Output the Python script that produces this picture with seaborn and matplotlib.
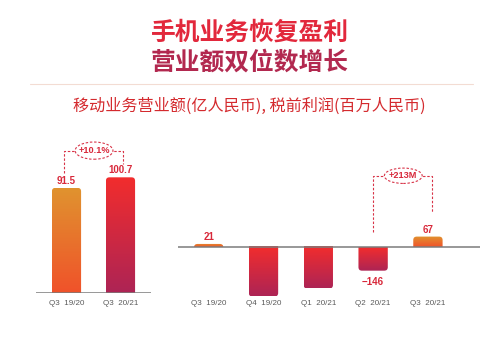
import numpy as np
import pandas as pd
import matplotlib
matplotlib.use("Agg")
import matplotlib.pyplot as plt
from matplotlib.patches import FancyBboxPatch, Ellipse
from matplotlib.colors import to_rgb
from matplotlib.lines import Line2D
import seaborn as sns

# data
rev_quarters = ["Q3  19/20", "Q3  20/21"]
revenue = [91.5, 100.7]
rev_labels = ["91.5", "100.7"]
rev_growth = "+10.1%"

pti_quarters = ["Q3  19/20", "Q4  19/20", "Q1  20/21", "Q2  20/21", "Q3  20/21"]
pti = [21, -307, -257, -146, 67]
pti_labels = ["21", "", "", "\u2212146", "67"]
pti_change = "+213M"

title_1 = "手机业务恢复盈利"
title_2 = "营业额双位数增长"
subtitle = "移动业务营业额(亿人民币), 税前利润(百万人民币)"

sns.set_theme(style="white")
plt.rcParams["font.family"] = ["Noto Sans CJK SC", "DejaVu Sans"]

ORANGE = ("#e0932f", "#f0522a")   # top, bottom
CRIMSON = ("#f22d2d", "#ad2455")  # top, bottom
RED_TXT = "#d8283a"
DASH = "#d83448"
TICK = "#5a5a5a"
LATIN = ["Liberation Sans", "DejaVu Sans"]


def px_units(ax):
    ax.figure.canvas.draw()
    x0, y0 = ax.transData.transform((0, 0))
    x1, y1 = ax.transData.transform((1, 1))
    return 1 / (x1 - x0), 1 / (y1 - y0)  # data units per px


def gradient_bars(ax, colors_list, radius_px=3.5):
    ux, uy = px_units(ax)
    r = radius_px * ux
    aspect = uy / ux
    ext = radius_px * 1.5 * uy
    xlim, ylim = ax.get_xlim(), ax.get_ylim()
    for p, (top, bottom) in zip(ax.patches, colors_list):
        b = p.get_bbox()
        xa, xb = b.x0, b.x1
        ya, yb = min(b.y0, b.y1), max(b.y0, b.y1)
        h = yb - ya
        # round only the far end: push the other end past the baseline
        start = ya - ext if yb > 0 else ya
        clip = FancyBboxPatch((xa, start), xb - xa, h + ext,
                              boxstyle=f"round,pad=0,rounding_size={r}",
                              mutation_aspect=aspect, transform=ax.transData,
                              facecolor="none", edgecolor="none")
        ax.add_patch(clip)
        t = np.linspace(0, 1, 128)[:, None]
        grad = (1 - t) * np.array(to_rgb(top)) + t * np.array(to_rgb(bottom))
        im = ax.imshow(grad[:, None, :], extent=(xa, xb, ya, yb), origin="upper",
                       aspect="auto", zorder=2, interpolation="bilinear")
        im.set_clip_path(clip)
        p.set_visible(False)
    ax.set_xlim(xlim)
    ax.set_ylim(ylim)


def value_labels(ax, values, labels):
    _, uy = px_units(ax)
    for i, (v, lab) in enumerate(zip(values, labels)):
        if not lab:
            continue
        if v > 0:
            ax.text(i, v + 4 * uy, lab, ha="center", va="baseline", color=RED_TXT,
                    fontsize=7, fontweight="bold", family=LATIN)
        else:
            ax.text(i, v - 6 * uy, lab, ha="center", va="top", color=RED_TXT,
                    fontsize=7, fontweight="bold", family=LATIN)


def bracket(ax, xa, ya, xb, yb, ytop, xe, text, ew, eh):
    ax.plot([xa, xa, xb, xb], [ya, ytop, ytop, yb], color=DASH, lw=0.8,
            ls=(0, (2.2, 1.6)), zorder=3)
    ax.add_patch(Ellipse((xe, ytop), ew, eh, facecolor="white", edgecolor=DASH,
                         lw=0.8, ls=(0, (2.2, 1.6)), zorder=4))
    ax.text(xe, ytop, text, ha="center", va="center", color=RED_TXT,
            fontsize=6.6, fontweight="bold", family=LATIN, zorder=5)


fig = plt.figure(figsize=(4.99, 3.53), dpi=100)
W, H = 499, 353

fig.text(0.5, 1 - 33 / H, title_1, ha="center", va="center", fontsize=17.8,
         fontweight="bold", color="#e2283c")
fig.text(0.5, 1 - 63 / H, title_2, ha="center", va="center", fontsize=17.8,
         fontweight="bold", color="#b2284f")
fig.add_artist(Line2D([30 / W, 473 / W], [1 - 83.5 / H] * 2, color="#f3dcd3", lw=0.8))
fig.text(0.5, 1 - 106 / H, subtitle, ha="center", va="center", fontsize=11.6,
         color="#d42a2e")

# left: revenue
rev = pd.DataFrame({"quarter": rev_quarters, "value": revenue})
ax1 = fig.add_axes([36 / W, 1 - 292.7 / H, 115 / W, 162.7 / H])
sns.barplot(data=rev, x="quarter", y="value", ax=ax1, width=0.54, color="#e05030")
ax1.set_xlim(-0.565, 1.565)
ax1.set_ylim(0, 142)
ax1.axhline(0, color="#7c7c7c", lw=1.1, zorder=3)
gradient_bars(ax1, [ORANGE, CRIMSON])
value_labels(ax1, revenue, rev_labels)
bracket(ax1, -0.05, revenue[0] + 13, 1.04, revenue[1] + 12, 124, 0.51,
        rev_growth, 0.70, 15)

# right: pre-tax income
pt = pd.DataFrame({"quarter": pti_quarters, "value": pti})
ax2 = fig.add_axes([178 / W, 1 - 298.2 / H, 302 / W, 168.2 / H])
sns.barplot(data=pt, x="quarter", y="value", ax=ax2, width=0.535, color="#e05030")
ax2.set_xlim(-0.56, 4.95)
ax2.set_ylim(-318, 733)
ax2.axhline(0, color="#7c7c7c", lw=1.1, zorder=3)
gradient_bars(ax2, [ORANGE if v > 0 else CRIMSON for v in pti])
value_labels(ax2, pti, pti_labels)
bracket(ax2, 3, 94, 4.07, pti[4] + 155, 447, 3.55, pti_change, 0.69, 96)

for ax, pad in ((ax1, 5.5), (ax2, 1.5)):
    sns.despine(ax=ax, left=True, bottom=True)
    ax.set_yticks([])
    ax.set_xlabel("")
    ax.set_ylabel("")
    ax.tick_params(axis="x", length=0, pad=pad, labelsize=5.8, labelcolor=TICK)
    for t in ax.get_xticklabels():
        t.set_family(LATIN)
    ax.patch.set_alpha(0)

fig.savefig("out.png", dpi=100)
